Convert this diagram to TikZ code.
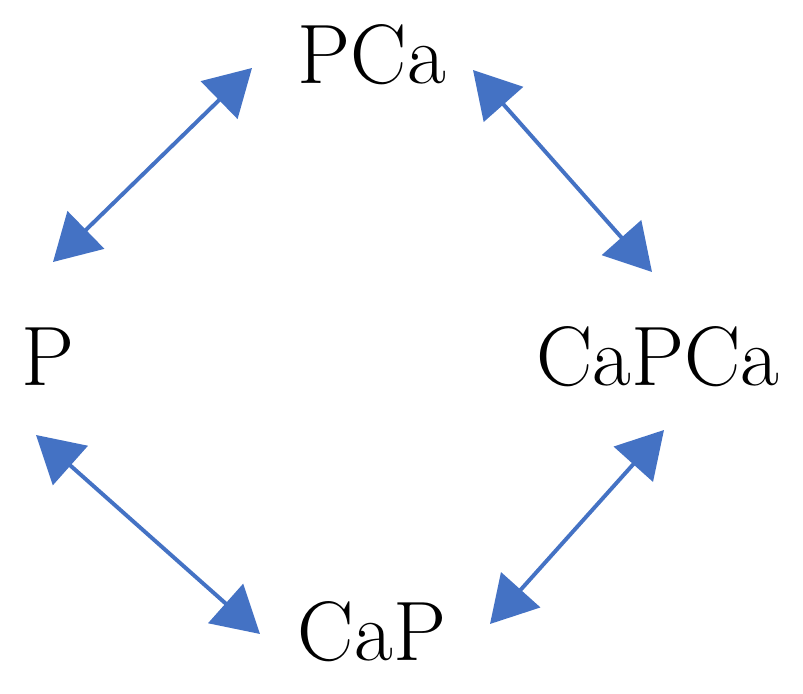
\documentclass[tikz,border=0pt]{standalone}
\usetikzlibrary{arrows.meta}
\definecolor{arrowblue}{RGB}{68,114,196}
\tikzset{
  lbl/.style={font=\fontsize{60}{66}\selectfont, inner sep=0pt},
  link/.style={arrowblue, line width=2.8pt, {Triangle[length=1.15cm,width=1.3cm]}-{Triangle[length=1.15cm,width=1.3cm]}}
}
\begin{document}
\begin{tikzpicture}[x=0.025cm,y=-0.025cm]
\useasboundingbox (0,0) rectangle (803,694);
\node[lbl] (pca) at (372,55) {PCa};
\node[lbl] (p) at (48,357) {P};
\node[lbl] (capca) at (658,357) {CaPCa};
\node[lbl] (cap) at (372,632) {CaP};
\coordinate (a1) at (252,68);
\coordinate (a2) at (53,262);
\coordinate (b1) at (473,70);
\coordinate (b2) at (652,272);
\coordinate (c1) at (36,435);
\coordinate (c2) at (260,634);
\coordinate (d1) at (664,430);
\coordinate (d2) at (490,624);
\draw[link] (a1) -- (a2);
\draw[link] (b1) -- (b2);
\draw[link] (c1) -- (c2);
\draw[link] (d1) -- (d2);
\end{tikzpicture}
\end{document}
